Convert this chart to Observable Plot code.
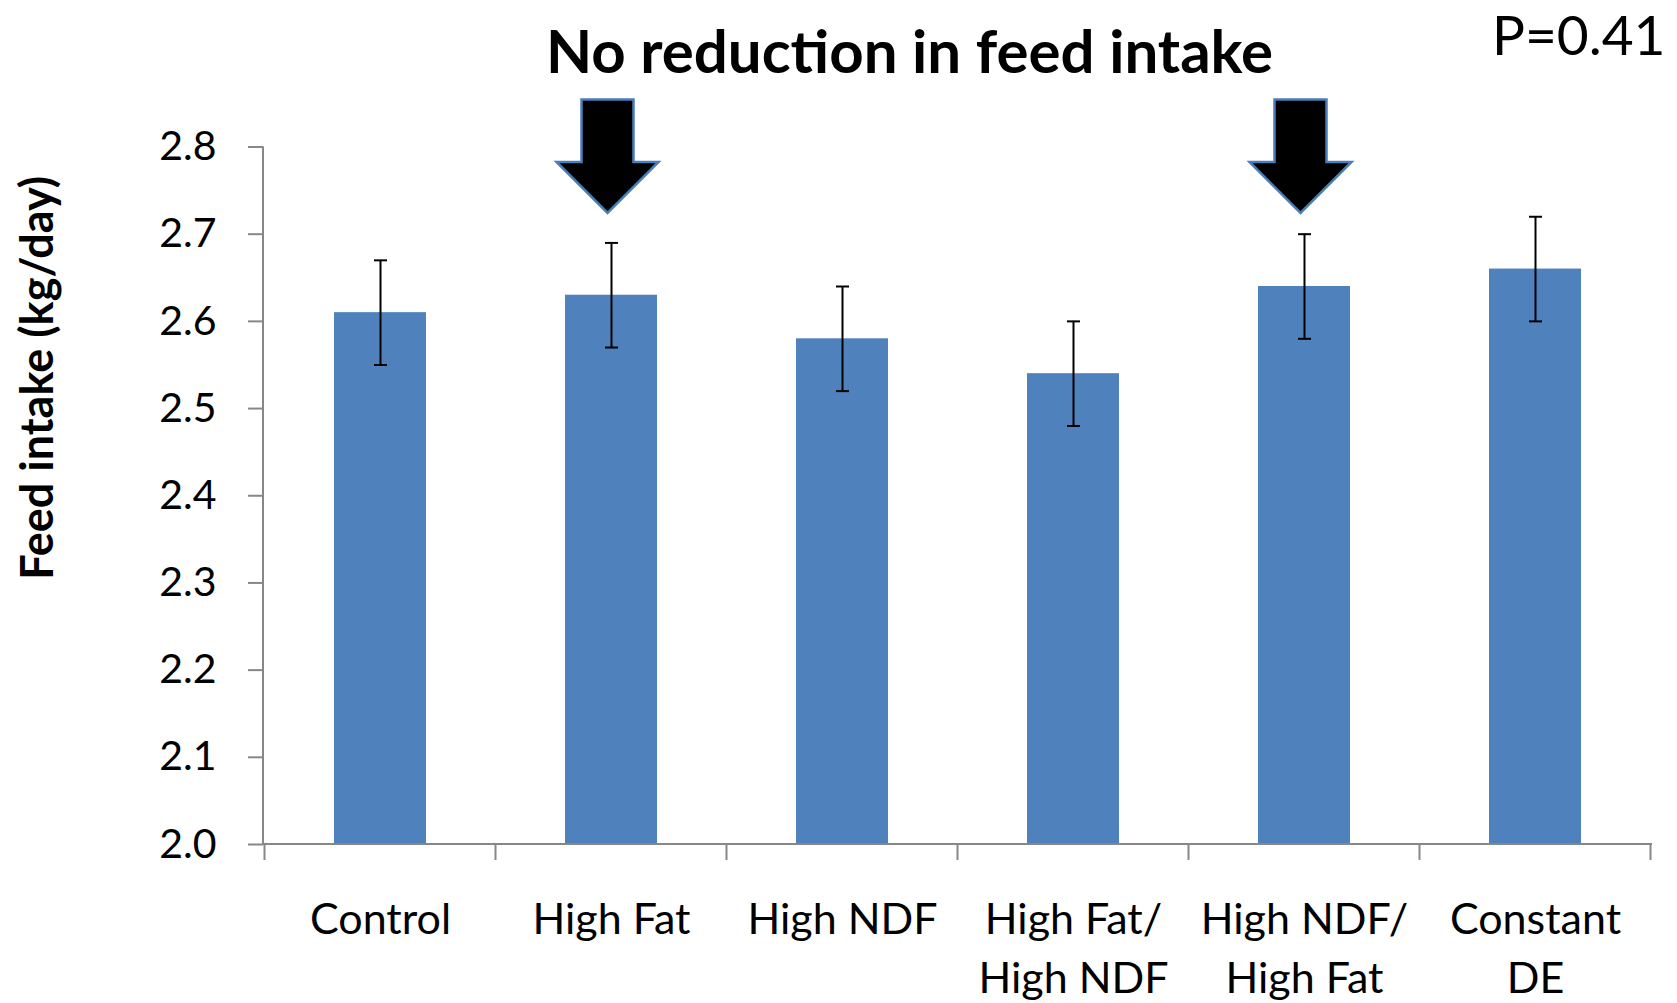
<!DOCTYPE html>
<html>
<head>
<meta charset="utf-8">
<script src="https://cdn.jsdelivr.net/npm/d3@7"></script>
<script src="https://cdn.jsdelivr.net/npm/@observablehq/plot@0.6"></script>
<style>
  html, body { margin: 0; padding: 0; background: #ffffff; }
  #chart svg { display: block; }
</style>
</head>
<body>
<div id="chart"></div>
<script>
// ---- data ----
const categories = ["Control", "High Fat", "High NDF", "High Fat/High NDF", "High NDF/High Fat", "Constant DE"];
const tickLabels = ["Control", "High Fat", "High NDF", "High Fat/\nHigh NDF", "High NDF/\nHigh Fat", "Constant\nDE"];
const means = [2.61, 2.63, 2.58, 2.54, 2.64, 2.66];
const lows  = [2.55, 2.57, 2.52, 2.48, 2.58, 2.60];
const highs = [2.67, 2.69, 2.64, 2.60, 2.70, 2.72];
const yTicks = [2.0, 2.1, 2.2, 2.3, 2.4, 2.5, 2.6, 2.7, 2.8];
const arrowTargets = ["High Fat", "High NDF/High Fat"];
const titleText = "No reduction in feed intake";
const pText = "P=0.41";
const yLabel = "Feed intake (kg/day)";

// ---- styles ----
const barColor = "#4f81bd";
const axisGrey = "#878787";
const font = "Lato, 'Open Sans', sans-serif";

const rows = categories.map((c, i) => ({cat: c, label: tickLabels[i], mean: means[i], lo: lows[i], hi: highs[i]}));

// custom symbols
const capSymbol = { draw(ctx) { ctx.moveTo(-6.5, 0); ctx.lineTo(6.5, 0); } };
const arrowSymbol = {
  draw(ctx) {
    ctx.moveTo(-26, -47.5);
    ctx.lineTo(26, -47.5);
    ctx.lineTo(26, 15);
    ctx.lineTo(51, 15);
    ctx.lineTo(0, 66);
    ctx.lineTo(-51, 15);
    ctx.lineTo(-26, 15);
    ctx.closePath();
  }
};

// axis lines and category boundary ticks, drawn from the plot's scales
function frameLines(index, scales, values, dims) {
  const x = scales.x, y = scales.y;
  const left = dims.marginLeft, right = dims.width - dims.marginRight;
  const n = categories.length;
  const step = typeof x.step === "function" ? x.step() : (right - left) / n;
  const bw = typeof x.bandwidth === "function" ? x.bandwidth() : step * 0.4;
  const y0 = y(yTicks[0]), yTop = y(yTicks[yTicks.length - 1]);
  const g = d3.create("svg:g").attr("stroke", axisGrey).attr("stroke-width", 2).attr("fill", "none");
  g.append("line").attr("x1", left).attr("x2", left).attr("y1", y0 + 1).attr("y2", yTop);
  g.append("line").attr("x1", left).attr("x2", right).attr("y1", y0).attr("y2", y0);
  const bounds = categories.map(c => x(c) - (step - bw) / 2);
  bounds.push(x(categories[n - 1]) + bw + (step - bw) / 2);
  for (const b of bounds) {
    g.append("line").attr("x1", b).attr("x2", b).attr("y1", y0).attr("y2", y0 + 16);
  }
  return g.node();
}

const plot = Plot.plot({
  width: 1677,
  height: 1003,
  marginLeft: 263,
  marginRight: 25,
  marginTop: 146.5,
  marginBottom: 159,
  style: { fontFamily: font, background: "#ffffff", color: "#000000" },
  x: { domain: categories, paddingInner: 0.6, paddingOuter: 0.3, axis: null },
  y: { domain: [yTicks[0], yTicks[yTicks.length - 1]], axis: null },
  marks: [
    Plot.barY(rows, { x: "cat", y1: yTicks[0], y2: "mean", fill: barColor }),
    frameLines,
    Plot.axisY({
      ticks: yTicks,
      tickFormat: d3.format(".1f"),
      tickSize: 15,
      tickPadding: 32,
      stroke: axisGrey,
      strokeWidth: 2,
      fontSize: 41,
      fill: "#000000",
      label: null
    }),
    Plot.text(rows, {
      x: "cat",
      text: "label",
      frameAnchor: "bottom",
      lineAnchor: "top",
      dy: 47,
      fontSize: 43,
      lineHeight: 1.38,
      fill: "#000000"
    }),
    Plot.ruleX(rows, { x: "cat", y1: "lo", y2: "hi", stroke: "#000000", strokeWidth: 2 }),
    Plot.dot(rows, { x: "cat", y: "lo", symbol: capSymbol, stroke: "#000000", strokeWidth: 2, fill: "none" }),
    Plot.dot(rows, { x: "cat", y: "hi", symbol: capSymbol, stroke: "#000000", strokeWidth: 2, fill: "none" }),
    Plot.dot(arrowTargets, { x: d => d, frameAnchor: "top", dx: -4, symbol: arrowSymbol, fill: "#000000", stroke: "#4a7ebb", strokeWidth: 2.5 }),
    Plot.text([titleText], { text: d => d, frameAnchor: "top-left", dx: 646, dy: -73.8, lineAnchor: "bottom", textAnchor: "middle", fontSize: 60, fontWeight: "bold", fill: "#000000" }),
    Plot.text([pText], { text: d => d, frameAnchor: "top-right", dx: 13, dy: -92, lineAnchor: "bottom", textAnchor: "end", fontSize: 55, fill: "#000000" }),
    Plot.text([yLabel], { text: d => d, frameAnchor: "left", dx: -225, dy: -118, rotate: -90, lineAnchor: "middle", textAnchor: "middle", fontSize: 45, fontWeight: "bold", fill: "#000000" })
  ]
});

document.getElementById("chart").appendChild(plot);
</script>
</body>
</html>
